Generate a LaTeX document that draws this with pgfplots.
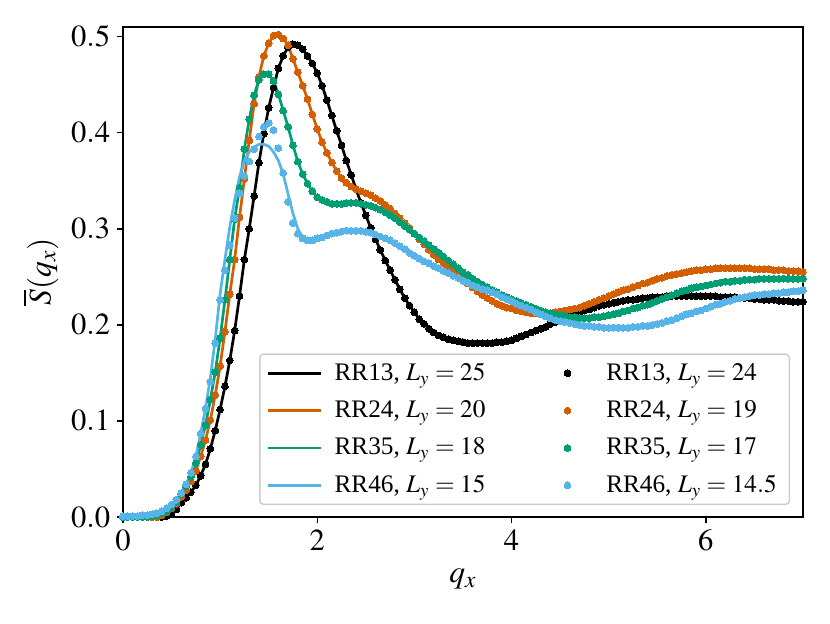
\documentclass[border=0pt]{standalone}
\usepackage{mathptmx}
\usepackage[no-math]{fontspec}
\setmainfont{Liberation Serif}
\usepackage{pgfplots}
\usepackage{pgfplotstable}
\pgfplotsset{compat=1.18}
\definecolor{cK}{HTML}{000000}
\definecolor{cO}{HTML}{D55E00}
\definecolor{cG}{HTML}{009E73}
\definecolor{cB}{HTML}{56B4E9}
\pgfplotstableread{
x k o g b bl
0.00 0 0 0 0.001 0.001
0.05 0 0 0 0.001 0.001
0.10 0 0 0 0.001 0.001
0.15 0 0 0 0.001 0.001
0.20 0 0 0 0.002 0.002
0.25 0 0 0 0.002 0.002
0.30 0 0 0.001 0.003 0.003
0.35 0 0 0.002 0.004 0.004
0.40 0 0.002 0.004 0.006 0.006
0.45 0.001 0.005 0.006 0.009 0.009
0.50 0.004 0.009 0.010 0.013 0.013
0.55 0.008 0.014 0.016 0.018 0.018
0.60 0.015 0.021 0.024 0.025 0.025
0.65 0.020 0.028 0.032 0.034 0.034
0.70 0.026 0.037 0.042 0.046 0.046
0.75 0.033 0.048 0.056 0.063 0.063
0.80 0.043 0.063 0.075 0.087 0.087
0.85 0.055 0.080 0.096 0.113 0.113
0.90 0.071 0.101 0.122 0.141 0.145
0.95 0.090 0.127 0.151 0.181 0.185
1.00 0.112 0.157 0.186 0.226 0.232
1.05 0.136 0.193 0.226 0.257 0.268
1.10 0.163 0.232 0.268 0.283 0.302
1.15 0.194 0.268 0.310 0.311 0.330
1.20 0.230 0.312 0.343 0.337 0.354
1.25 0.268 0.352 0.383 0.355 0.371
1.30 0.300 0.392 0.414 0.370 0.380
1.35 0.334 0.430 0.439 0.383 0.385
1.40 0.369 0.458 0.455 0.396 0.388
1.45 0.399 0.480 0.461 0.406 0.388
1.50 0.426 0.493 0.461 0.410 0.386
1.55 0.447 0.501 0.454 0.403 0.380
1.60 0.467 0.502 0.440 0.384 0.371
1.65 0.480 0.498 0.423 0.358 0.357
1.70 0.489 0.491 0.406 0.328 0.336
1.75 0.492 0.477 0.387 0.306 0.316
1.80 0.491 0.463 0.370 0.295 0.300
1.85 0.487 0.449 0.357 0.290 0.291
1.90 0.480 0.435 0.347 0.288 0.288
1.95 0.472 0.419 0.339 0.288 0.288
2.00 0.462 0.404 0.333 0.290 0.290
2.05 0.449 0.390 0.330 0.291 0.291
2.10 0.434 0.379 0.328 0.293 0.293
2.15 0.418 0.369 0.326 0.295 0.295
2.20 0.402 0.360 0.326 0.296 0.296
2.25 0.387 0.353 0.326 0.297 0.297
2.30 0.371 0.348 0.327 0.298 0.298
2.35 0.356 0.344 0.327 0.298 0.298
2.40 0.341 0.341 0.327 0.298 0.298
2.45 0.327 0.339 0.326 0.298 0.298
2.50 0.314 0.337 0.325 0.297 0.297
2.55 0.301 0.335 0.324 0.296 0.296
2.60 0.289 0.332 0.322 0.294 0.294
2.65 0.278 0.329 0.320 0.292 0.292
2.70 0.267 0.325 0.317 0.290 0.290
2.75 0.257 0.321 0.314 0.288 0.288
2.80 0.247 0.316 0.311 0.285 0.285
2.85 0.237 0.311 0.307 0.282 0.282
2.90 0.228 0.306 0.303 0.279 0.279
2.95 0.220 0.301 0.299 0.275 0.275
3.00 0.213 0.295 0.295 0.272 0.272
3.05 0.206 0.289 0.291 0.269 0.269
3.10 0.201 0.284 0.287 0.266 0.266
3.15 0.196 0.278 0.283 0.264 0.264
3.20 0.192 0.273 0.279 0.261 0.261
3.25 0.189 0.268 0.275 0.259 0.259
3.30 0.187 0.264 0.271 0.256 0.256
3.35 0.185 0.260 0.267 0.254 0.254
3.40 0.184 0.256 0.263 0.251 0.251
3.45 0.183 0.252 0.259 0.249 0.249
3.50 0.182 0.247 0.255 0.246 0.246
3.55 0.181 0.243 0.252 0.244 0.244
3.60 0.181 0.239 0.248 0.241 0.241
3.65 0.181 0.235 0.245 0.239 0.239
3.70 0.181 0.231 0.242 0.237 0.237
3.75 0.181 0.228 0.239 0.236 0.236
3.80 0.181 0.225 0.236 0.234 0.234
3.85 0.182 0.222 0.234 0.232 0.232
3.90 0.182 0.220 0.231 0.229 0.229
3.95 0.183 0.218 0.229 0.227 0.227
4.00 0.184 0.217 0.227 0.225 0.225
4.05 0.186 0.215 0.225 0.222 0.222
4.10 0.188 0.214 0.223 0.220 0.220
4.15 0.190 0.213 0.221 0.218 0.218
4.20 0.192 0.212 0.219 0.216 0.216
4.25 0.194 0.212 0.217 0.213 0.213
4.30 0.196 0.212 0.215 0.211 0.211
4.35 0.198 0.212 0.213 0.209 0.209
4.40 0.201 0.212 0.212 0.207 0.207
4.45 0.203 0.213 0.211 0.205 0.205
4.50 0.205 0.214 0.210 0.204 0.204
4.55 0.207 0.215 0.209 0.203 0.203
4.60 0.209 0.216 0.208 0.202 0.202
4.65 0.211 0.217 0.208 0.201 0.201
4.70 0.213 0.218 0.207 0.200 0.200
4.75 0.215 0.220 0.207 0.199 0.199
4.80 0.216 0.222 0.207 0.199 0.199
4.85 0.218 0.224 0.208 0.198 0.198
4.90 0.220 0.226 0.208 0.198 0.198
4.95 0.221 0.228 0.209 0.197 0.197
5.00 0.222 0.230 0.210 0.197 0.197
5.05 0.223 0.232 0.211 0.197 0.197
5.10 0.224 0.234 0.212 0.197 0.197
5.15 0.225 0.236 0.214 0.197 0.197
5.20 0.226 0.237 0.215 0.197 0.197
5.25 0.226 0.239 0.217 0.198 0.198
5.30 0.227 0.241 0.218 0.198 0.198
5.35 0.228 0.243 0.220 0.199 0.199
5.40 0.228 0.244 0.221 0.199 0.199
5.45 0.229 0.246 0.223 0.200 0.200
5.50 0.229 0.248 0.225 0.201 0.201
5.55 0.229 0.249 0.227 0.202 0.202
5.60 0.230 0.251 0.229 0.204 0.204
5.65 0.230 0.252 0.231 0.205 0.205
5.70 0.230 0.253 0.233 0.207 0.207
5.75 0.230 0.254 0.235 0.209 0.209
5.80 0.230 0.255 0.236 0.211 0.211
5.85 0.230 0.256 0.238 0.212 0.212
5.90 0.230 0.257 0.239 0.214 0.214
5.95 0.230 0.257 0.240 0.215 0.215
6.00 0.230 0.258 0.241 0.217 0.217
6.05 0.230 0.258 0.242 0.219 0.219
6.10 0.230 0.259 0.243 0.221 0.221
6.15 0.229 0.259 0.244 0.222 0.222
6.20 0.229 0.259 0.245 0.224 0.224
6.25 0.229 0.259 0.245 0.225 0.225
6.30 0.229 0.259 0.246 0.227 0.227
6.35 0.228 0.259 0.246 0.228 0.228
6.40 0.228 0.259 0.247 0.229 0.229
6.45 0.228 0.259 0.247 0.230 0.230
6.50 0.227 0.258 0.247 0.231 0.231
6.55 0.227 0.258 0.248 0.231 0.231
6.60 0.226 0.258 0.248 0.232 0.232
6.65 0.226 0.258 0.248 0.232 0.232
6.70 0.226 0.257 0.248 0.233 0.233
6.75 0.225 0.257 0.248 0.233 0.233
6.80 0.225 0.257 0.248 0.234 0.234
6.85 0.225 0.256 0.248 0.234 0.234
6.90 0.224 0.256 0.248 0.235 0.235
6.95 0.224 0.256 0.248 0.235 0.235
7.00 0.224 0.255 0.248 0.236 0.236
}\data
\pgfplotsset{
  lineleg/.style={legend image code/.code={\draw[##1] (0pt,0pt) -- (29pt,0pt);}},
  dotleg/.style={legend image code/.code={\path[draw=none, fill=none] (0pt,0pt) -- (29pt,0pt); \draw[##1] plot coordinates {(14.5pt,0pt)};}},
  ln/.style={#1, line width=1.5pt, no marks, lineleg},
  dt/.style={#1, only marks, mark=*, mark size=1.9pt, mark options={fill=#1, draw=#1, line width=0pt}, dotleg},
}
\begin{document}
\begin{tikzpicture}
\begin{axis}[
  scale only axis,
  width=377.2pt, height=271.8pt,
  xmin=0, xmax=7, ymin=0, ymax=0.51,
  xtick={0,2,4,6}, ytick={0,0.1,0.2,0.3,0.4,0.5},
  yticklabel style={/pgf/number format/fixed, /pgf/number format/fixed zerofill, /pgf/number format/precision=1},
  tick align=outside, xtick pos=bottom, ytick pos=left,
  major tick length=3.5pt,
  tick style={black, line width=0.8pt},
  axis line style={line width=0.8pt},
  ticklabel style={font=\fontsize{17}{20}\selectfont},
  xlabel={$q_x$}, ylabel={$\overline{S}(q_x)$},
  every axis x label/.style={at={(rel axis cs:0.5,0)}, anchor=center, yshift=-34.5pt, font=\fontsize{17.5}{21}\selectfont},
  every axis y label/.style={at={(rel axis cs:0,0.5)}, anchor=center, xshift=-45.5pt, rotate=90, font=\fontsize{17.5}{21}\selectfont},
  legend columns=4, transpose legend,
  legend cell align=left,
  legend style={at={(0.981,0.0245)}, anchor=south east,
    draw=black!20, line width=0.8pt, rounded corners=2pt, fill=white,
    font=\fontsize{14}{16}\selectfont,
    inner xsep=4pt, inner ysep=4pt,
    row sep=7.8pt,
    nodes={inner xsep=3pt, inner ysep=1pt},
    /tikz/every odd column/.append style={column sep=4pt},
    /tikz/every even column/.append style={column sep=28pt}},
]
\addplot[ln=cK] table[x=x, y=k] {\data}; \addlegendentry{RR13, $L_y = 25$}
\addplot[ln=cO] table[x=x, y=o] {\data}; \addlegendentry{RR24, $L_y = 20$}
\addplot[ln=cG] table[x=x, y=g] {\data}; \addlegendentry{RR35, $L_y = 18$}
\addplot[ln=cB] table[x=x, y=bl] {\data}; \addlegendentry{RR46, $L_y = 15$}
\addplot[dt=cK] table[x=x, y=k] {\data}; \addlegendentry{RR13, $L_y = 24$}
\addplot[dt=cO] table[x=x, y=o] {\data}; \addlegendentry{RR24, $L_y = 19$}
\addplot[dt=cG] table[x=x, y=g] {\data}; \addlegendentry{RR35, $L_y = 17$}
\addplot[dt=cB] table[x=x, y=b] {\data}; \addlegendentry{RR46, $L_y = 14.5$}
\coordinate (sw) at (rel axis cs:0,0);
\coordinate (ne) at (rel axis cs:1,1);
\end{axis}
\pgfresetboundingbox
\useasboundingbox ([shift={(-68.2pt,-58.8pt)}]sw) rectangle ([shift={(15pt,15pt)}]ne);
\end{tikzpicture}
\end{document}
